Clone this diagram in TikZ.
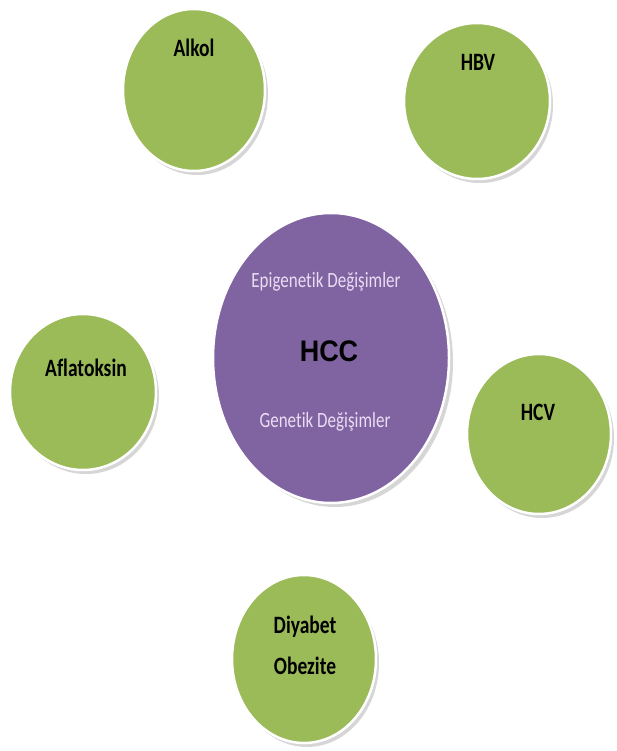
\documentclass[tikz,border=0pt]{standalone}
\usepackage{fontspec}
\setmainfont{Carlito}[Ligatures=NoCommon]
\newfontfamily\arialfont{Liberation Sans}
\usetikzlibrary{shapes.geometric}
\definecolor{leaf}{HTML}{9BBB59}
\definecolor{plum}{HTML}{8064A2}
\definecolor{lilac}{HTML}{EADCF2}
\tikzset{
  blob/.style={ellipse, draw=white, line width=2.5pt, inner sep=0pt},
  greenblob/.style={blob, fill=leaf},
  purpleblob/.style={blob, fill=plum},
  shade/.style={ellipse, fill=black!45, opacity=0.35, inner sep=0pt, draw=none},
  lbl/.style={font=\bfseries\fontsize{19.5}{22}\selectfont, text=black, inner sep=0pt},
  sub/.style={font=\fontsize{17}{20}\selectfont, text=lilac, inner sep=0pt}
}
\newcommand{\tallt}[1]{\scalebox{1}[1.28]{#1}}
\begin{document}
\begin{tikzpicture}[x=1pt,y=-1pt]
\useasboundingbox (0,0) rectangle (617,751);
\fill[white] (0,0) rectangle (617,751);
% shadows
\node[shade, minimum width=142pt, minimum height=162pt] at (197,94) {};
\node[shade, minimum width=146pt, minimum height=156pt] at (480,105) {};
\node[shade, minimum width=236pt, minimum height=290pt] at (335,362) {};
\node[shade, minimum width=146pt, minimum height=156pt] at (86,396) {};
\node[shade, minimum width=144pt, minimum height=160pt] at (542,438) {};
\node[shade, minimum width=144pt, minimum height=168pt] at (307,663) {};
% circles
\node[greenblob, minimum width=142pt, minimum height=162pt] (alkol) at (194,90) {};
\node[greenblob, minimum width=146pt, minimum height=156pt] (hbv) at (477,101) {};
\node[purpleblob, minimum width=236pt, minimum height=290pt] (hcc) at (331,358) {};
\node[greenblob, minimum width=146pt, minimum height=156pt] (afla) at (83,392) {};
\node[greenblob, minimum width=144pt, minimum height=160pt] (hcv) at (539,434) {};
\node[greenblob, minimum width=144pt, minimum height=168pt] (diya) at (304,659) {};
% labels
\node[lbl] (talkol) at (194,48) {\tallt{Alkol}};
\node[lbl] (thbv) at (478,62) {\tallt{HBV}};
\node[lbl] (tafla) at (86,368) {\tallt{Aflatoksin}};
\node[lbl] (thcv) at (538,412) {\tallt{HCV}};
\node[lbl] (tdiya) at (305,627) {\tallt{Diyabet}};
\node[lbl] (tobez) at (305,666) {\tallt{Obezite}};
\node[font=\arialfont\bfseries\fontsize{27}{30}\selectfont, inner sep=0pt] (thcc) at (329,351) {\scalebox{1}[1.1]{HCC}};
\node[sub] (tepi) at (326,282) {\tallt{Epigenetik Değişimler}};
\node[sub] (tgen) at (325,422) {\tallt{Genetik Değişimler}};
\end{tikzpicture}
\end{document}
